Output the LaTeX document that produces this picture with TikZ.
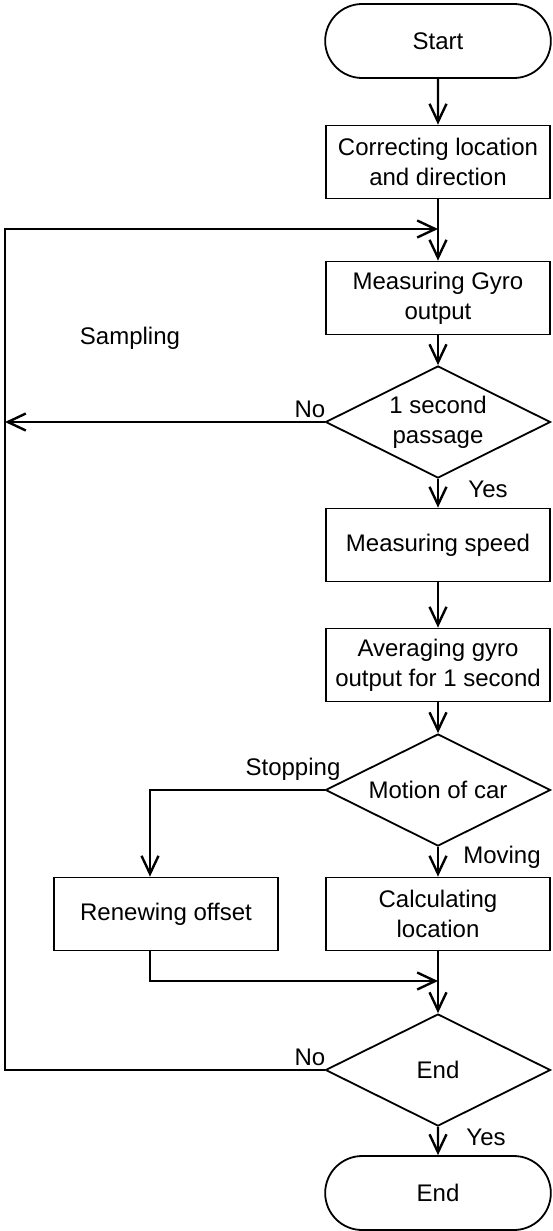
\documentclass[tikz,border=0pt]{standalone}
\usepackage{fontspec}
\setmainfont{Liberation Sans}
\usetikzlibrary{shapes.geometric,shapes.misc,arrows.meta}
\tikzset{
  procbox/.style={draw,line width=0.9pt,minimum width=112pt,minimum height=36.5pt,align=center,inner sep=1pt},
  decision/.style={draw,diamond,line width=0.9pt,minimum width=112.5pt,minimum height=56pt,aspect=2,inner sep=0pt,align=center},
  terminal/.style={draw,rounded rectangle,line width=0.9pt,minimum width=119.5pt,minimum height=37pt},
  flow/.style={line width=1.2pt,-{Straight Barb[length=9pt,width=8.5pt]}},
}
\begin{document}
\begin{tikzpicture}[x=0.5pt,y=-0.5pt,font=\fontsize{12}{15}\selectfont]
  \useasboundingbox (0,0) rectangle (552,1231);
  \draw
    (438,41) node[terminal] (start){Start}
    (438,162) node[procbox] (correct){Correcting location\\and direction}
    (438,298) node[procbox] (gyro){Measuring Gyro\\output}
    (438,422) node[decision] (second){1 second\\passage}
    (438,545) node[procbox] (speed){Measuring speed}
    (438,665) node[procbox] (average){Averaging gyro\\output for 1 second}
    (438,790) node[decision] (motion){Motion of car}
    (166,914) node[procbox] (renew){Renewing offset}
    (438,914) node[procbox] (calc){Calculating\\location}
    (438,1070) node[decision] (finish){End}
    (438,1193) node[terminal] (stop){End};
  \draw
    (130,338) node (sampling){Sampling}
    (310,409) node (no1){No}
    (488,489) node (yes1){Yes}
    (293,769) node (stopping){Stopping}
    (502,857) node (moving){Moving}
    (310,1057) node (no2){No}
    (486,1137) node (yes2){Yes};
  \coordinate (loopt) at (5,229);
  \coordinate (loopin) at (correct.south |- loopt);
  \coordinate (rtop) at (150,0 |- renew.north);
  \coordinate (rbot) at (150,0 |- renew.south);
  \coordinate (join) at (438,981);
  \begin{scope}[flow]
    \draw (start) to (correct);
    \draw (correct) to (gyro);
    \draw (gyro) to (second);
    \draw (second) to (speed);
    \draw (speed) to (average);
    \draw (average) to (motion);
    \draw (motion) to (calc);
    \draw (calc) to (finish);
    \draw (finish) to (stop);
    \draw (motion.west) -| (rtop);
    \draw (rbot) |- (join);
    \draw (second.west) -- (second.west -| loopt);
    \draw (finish.west) -| (loopt) -- (loopin);
  \end{scope}
\end{tikzpicture}
\end{document}
